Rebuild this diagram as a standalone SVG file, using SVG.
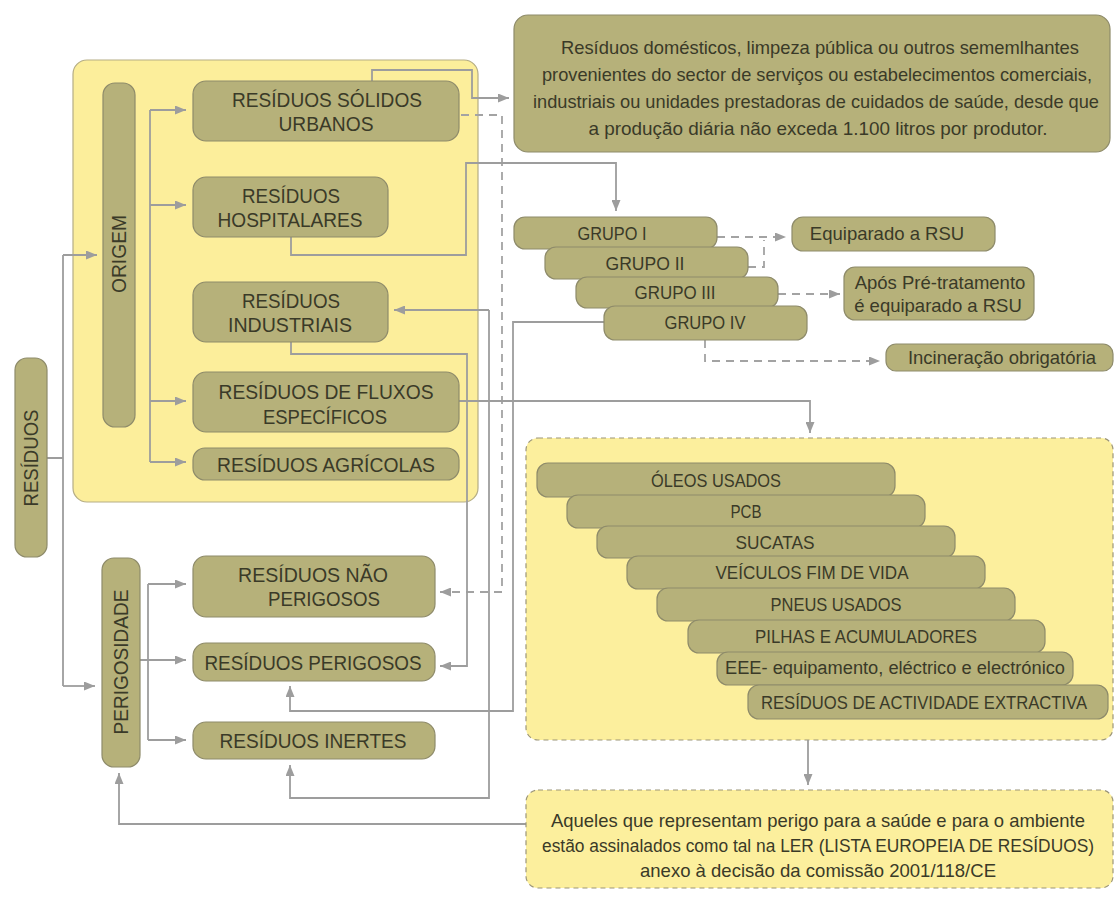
<svg xmlns="http://www.w3.org/2000/svg" width="1116" height="900" viewBox="0 0 1116 900">
<defs>
<style>
.bx{fill:#b6b17a;stroke:#8e8b6a;stroke-width:1.2}
.yel{fill:#fcee9b;stroke:#b5ad85;stroke-width:1.2}
.dyel{fill:#fcef9d;stroke:#9c9679;stroke-width:1.2;stroke-dasharray:5 4}
.c{fill:none;stroke:#9d9d9d;stroke-width:1.8}
.d{fill:none;stroke:#a3a3a3;stroke-width:1.8;stroke-dasharray:8 6}
.a{marker-end:url(#ah)}
text{font-family:"Liberation Sans",Arial,sans-serif;fill:#3a3a28;text-anchor:middle}
.t21{font-size:21px}
.t18{font-size:18px}
.t185{font-size:18.5px}
.t175{font-size:17.5px}
</style>
<marker id="ah" markerUnits="userSpaceOnUse" markerWidth="11" markerHeight="9" refX="11" refY="4.5" orient="auto">
<path d="M0,0 L11,4.5 L0,9 z" fill="#9d9d9d"/>
</marker>
</defs>
<rect width="1116" height="900" fill="#ffffff"/>

<g id="origem-container"><rect class="yel" x="73" y="60" width="405" height="442" rx="14"/></g>
<g id="lista-container"><rect class="dyel" x="526" y="438" width="587" height="302" rx="12"/></g>

<g id="connectors">
<path class="c" d="M47,458 H63 M63,255 V686"/>
<path class="c a" d="M63,255 H97"/>
<path class="c a" d="M63,686 H95"/>
<path class="c" d="M150,110 V462"/>
<path class="c a" d="M150,110 H186"/>
<path class="c a" d="M150,205 H186"/>
<path class="c a" d="M150,401 H186"/>
<path class="c a" d="M150,462 H186"/>
<path class="c" d="M140,660 H148 M148,584 V740"/>
<path class="c a" d="M148,584 H186"/>
<path class="c a" d="M148,660 H186"/>
<path class="c a" d="M148,740 H186"/>
<path class="c a" d="M372,81 V70 H472 V98 H509"/>
<path class="d a" d="M461,115 H502 V592 H440"/>
<path class="c a" d="M291,237 V255 H466 V163 H616 V211"/>
<path class="c a" d="M291,342 V354 H467 V666 H440"/>
<path class="c a" d="M489,310 H394"/>
<path class="c a" d="M489,310 V798 H290 V765"/>
<path class="c a" d="M604,322 H513 V711 H290 V686"/>
<path class="c a" d="M459,401 H810 V433"/>
<path class="c a" d="M808,740 V785"/>
<path class="c a" d="M526,824 H119 V773"/>
<path class="d a" d="M717,237 H786"/>
<path class="d" d="M748,267 H764 V240"/>
<path class="d a" d="M778,294 H840"/>
<path class="d a" d="M705,340 V361 H880"/>
</g>

<g id="residuos"><rect class="bx" x="15" y="358" width="32" height="199" rx="12"/><text class="t21" transform="translate(38,458) rotate(-90)" textLength="97" lengthAdjust="spacingAndGlyphs">RESÍDUOS</text></g>
<g id="origem"><rect class="bx" x="103" y="83" width="32" height="344" rx="12"/><text class="t21" transform="translate(126,254) rotate(-90)" textLength="78" lengthAdjust="spacingAndGlyphs">ORIGEM</text></g>
<g id="perigosidade"><rect class="bx" x="102" y="558" width="38" height="209" rx="12"/><text class="t21" transform="translate(128,662) rotate(-90)" textLength="145" lengthAdjust="spacingAndGlyphs">PERIGOSIDADE</text></g>

<g id="rsu"><rect class="bx" x="193" y="81" width="266" height="60" rx="13"/><text class="t21" x="327" y="107" textLength="190" lengthAdjust="spacingAndGlyphs">RESÍDUOS SÓLIDOS</text><text class="t21" x="326" y="131" textLength="95" lengthAdjust="spacingAndGlyphs">URBANOS</text></g>
<g id="hospitalares"><rect class="bx" x="193" y="177" width="195" height="60" rx="13"/><text class="t21" x="291" y="203" textLength="98" lengthAdjust="spacingAndGlyphs">RESÍDUOS</text><text class="t21" x="290" y="227" textLength="145" lengthAdjust="spacingAndGlyphs">HOSPITALARES</text></g>
<g id="industriais"><rect class="bx" x="193" y="282" width="195" height="60" rx="13"/><text class="t21" x="291" y="308" textLength="98" lengthAdjust="spacingAndGlyphs">RESÍDUOS</text><text class="t21" x="290" y="332" textLength="124" lengthAdjust="spacingAndGlyphs">INDUSTRIAIS</text></g>
<g id="fluxos"><rect class="bx" x="193" y="372" width="266" height="60" rx="13"/><text class="t21" x="326" y="399" textLength="215" lengthAdjust="spacingAndGlyphs">RESÍDUOS DE FLUXOS</text><text class="t21" x="325" y="424" textLength="124" lengthAdjust="spacingAndGlyphs">ESPECÍFICOS</text></g>
<g id="agricolas"><rect class="bx" x="193" y="448" width="266" height="32" rx="12"/><text class="t21" x="326" y="472" textLength="218" lengthAdjust="spacingAndGlyphs">RESÍDUOS AGRÍCOLAS</text></g>

<g id="nao-perigosos"><rect class="bx" x="193" y="556" width="242" height="61" rx="13"/><text class="t21" x="313" y="582" textLength="150" lengthAdjust="spacingAndGlyphs">RESÍDUOS NÃO</text><text class="t21" x="324" y="606" textLength="112" lengthAdjust="spacingAndGlyphs">PERIGOSOS</text></g>
<g id="perigosos"><rect class="bx" x="193" y="643" width="242" height="38" rx="13"/><text class="t21" x="313" y="670" textLength="217" lengthAdjust="spacingAndGlyphs">RESÍDUOS PERIGOSOS</text></g>
<g id="inertes"><rect class="bx" x="193" y="722" width="242" height="37" rx="13"/><text class="t21" x="313" y="748" textLength="187" lengthAdjust="spacingAndGlyphs">RESÍDUOS INERTES</text></g>

<g id="rsu-def"><rect class="bx" x="514" y="15" width="596" height="137" rx="14"/>
<text class="t185" x="820" y="54" textLength="518" lengthAdjust="spacingAndGlyphs">Resíduos domésticos, limpeza pública ou outros sememlhantes</text>
<text class="t185" x="817" y="81" textLength="550" lengthAdjust="spacingAndGlyphs">provenientes do sector de serviços ou estabelecimentos comerciais,</text>
<text class="t185" x="816" y="108" textLength="566" lengthAdjust="spacingAndGlyphs">industriais ou unidades prestadoras de cuidados de saúde, desde que</text>
<text class="t185" x="818" y="135" textLength="459" lengthAdjust="spacingAndGlyphs">a produção diária não exceda 1.100 litros por produtor.</text></g>

<g id="grupo1"><rect class="bx" x="514" y="217" width="203" height="32" rx="11"/><text class="t18" x="612" y="240" textLength="69" lengthAdjust="spacingAndGlyphs">GRUPO I</text></g>
<g id="grupo2"><rect class="bx" x="545" y="247" width="203" height="32" rx="11"/><text class="t18" x="645" y="270" textLength="79" lengthAdjust="spacingAndGlyphs">GRUPO II</text></g>
<g id="grupo3"><rect class="bx" x="576" y="277" width="202" height="31" rx="11"/><text class="t18" x="675" y="299" textLength="81" lengthAdjust="spacingAndGlyphs">GRUPO III</text></g>
<g id="grupo4"><rect class="bx" x="604" y="306" width="203" height="34" rx="11"/><text class="t18" x="705" y="329" textLength="81" lengthAdjust="spacingAndGlyphs">GRUPO IV</text></g>

<g id="equiparado"><rect class="bx" x="792" y="217" width="203" height="34" rx="11"/><text class="t185" x="887" y="240">Equiparado a RSU</text></g>
<g id="apos"><rect class="bx" x="844" y="267" width="190" height="53" rx="11"/><text class="t185" x="940" y="289">Após Pré-tratamento</text><text class="t185" x="938" y="312">é equiparado a RSU</text></g>
<g id="incineracao"><rect class="bx" x="886" y="344" width="227" height="27" rx="10"/><text class="t185" x="1002" y="364">Incineração obrigatória</text></g>

<g id="oleos"><rect class="bx" x="537" y="463" width="358" height="34" rx="11"/><text class="t18" x="716" y="487" textLength="130" lengthAdjust="spacingAndGlyphs">ÓLEOS USADOS</text></g>
<g id="pcb"><rect class="bx" x="567" y="495" width="358" height="33" rx="11"/><text class="t18" x="746" y="518" textLength="31" lengthAdjust="spacingAndGlyphs">PCB</text></g>
<g id="sucatas"><rect class="bx" x="597" y="526" width="358" height="32" rx="11"/><text class="t18" x="775" y="549" textLength="79" lengthAdjust="spacingAndGlyphs">SUCATAS</text></g>
<g id="veiculos"><rect class="bx" x="627" y="556" width="358" height="33" rx="11"/><text class="t18" x="812" y="579" textLength="193" lengthAdjust="spacingAndGlyphs">VEÍCULOS FIM DE VIDA</text></g>
<g id="pneus"><rect class="bx" x="657" y="588" width="358" height="33" rx="11"/><text class="t18" x="836" y="611" textLength="131" lengthAdjust="spacingAndGlyphs">PNEUS USADOS</text></g>
<g id="pilhas"><rect class="bx" x="688" y="620" width="357" height="33" rx="11"/><text class="t18" x="866" y="643" textLength="222" lengthAdjust="spacingAndGlyphs">PILHAS E ACUMULADORES</text></g>
<g id="eee"><rect class="bx" x="717" y="652" width="356" height="33" rx="11"/><text class="t18" x="895" y="674" textLength="340" lengthAdjust="spacingAndGlyphs">EEE- equipamento, eléctrico e electrónico</text></g>
<g id="extractiva"><rect class="bx" x="748" y="685" width="360" height="34" rx="11"/><text class="t18" x="924" y="709" textLength="326" lengthAdjust="spacingAndGlyphs">RESÍDUOS DE ACTIVIDADE EXTRACTIVA</text></g>

<g id="ler"><rect class="dyel" x="526" y="790" width="587" height="98" rx="12"/>
<text class="t185" x="818" y="827" textLength="534" lengthAdjust="spacingAndGlyphs">Aqueles que representam perigo para a saúde e para o ambiente</text>
<text class="t175" x="818" y="852" textLength="552" lengthAdjust="spacingAndGlyphs">estão assinalados como tal na LER (LISTA EUROPEIA DE RESÍDUOS)</text>
<text class="t185" x="818" y="877" textLength="356" lengthAdjust="spacingAndGlyphs">anexo à decisão da comissão 2001/118/CE</text></g>
</svg>
